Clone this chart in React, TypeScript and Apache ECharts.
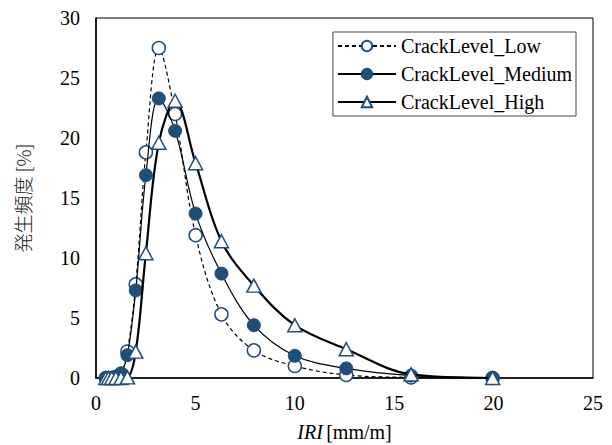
import React, { useEffect, useRef } from "react";
import * as echarts from "echarts";

const iri = [0.5, 0.63, 0.79, 1.0, 1.26, 1.58, 2.0, 2.51, 3.16, 3.98, 5.01, 6.31, 7.94, 10.0, 12.59, 15.85, 19.95];
const lowValues = [0, 0, 0, 0.1, 0.3, 2.2, 7.8, 18.8, 27.5, 22.0, 11.9, 5.3, 2.3, 1.0, 0.25, 0.05, 0];
const mediumValues = [0, 0, 0, 0.05, 0.4, 1.9, 7.3, 16.9, 23.3, 20.6, 13.7, 8.7, 4.4, 1.85, 0.8, 0.2, 0];
const highValues = [0, 0, 0, 0, 0, 0.05, 2.2, 10.4, 19.6, 23.1, 17.9, 11.4, 7.7, 4.4, 2.4, 0.3, 0];
const seriesNames = ["CrackLevel_Low", "CrackLevel_Medium", "CrackLevel_High"];
const xTicks = [0, 5, 10, 15, 20, 25];
const yTicks = [0, 5, 10, 15, 20, 25, 30];

const BLUE = "#1F4E79";
const SERIF = "'Liberation Serif', serif";

export default function App() {
  const ref = useRef<HTMLDivElement>(null);
  useEffect(() => {
    document.body.style.margin = "0";
    if (!ref.current) return;
    const chart = echarts.init(ref.current, undefined, { renderer: "svg" });
    const pair = (vals: number[]) => iri.map((x, i) => [x, vals[i]]);
    chart.setOption({
      animation: false,
      backgroundColor: "#fff",
      grid: {
        left: 96,
        right: 19,
        top: 18,
        bottom: 67,
        show: true,
        borderColor: "#000",
        borderWidth: 1,
        containLabel: false,
        outerBoundsMode: "none",
      },
      legend: {
        right: 36,
        top: 32,
        orient: "vertical",
        itemWidth: 58,
        itemHeight: 13,
        itemGap: 8,
        backgroundColor: "#fff",
        borderColor: "#444",
        borderWidth: 1,
        padding: [4, 4, 4, 4],
        textStyle: { fontFamily: SERIF, fontSize: 20, color: "#000" },
        data: seriesNames,
      },
      xAxis: {
        type: "value",
        min: xTicks[0],
        max: xTicks[xTicks.length - 1],
        interval: 5,
        name: "{i|IRI} {n|[mm/m]}",
        nameLocation: "middle",
        nameGap: 44,
        nameTextStyle: {
          rich: {
            i: { fontFamily: SERIF, fontSize: 20, fontStyle: "italic", color: "#000" },
            n: { fontFamily: SERIF, fontSize: 20, color: "#000" },
          },
        },
        axisLine: { show: true, lineStyle: { color: "#000", width: 1.5 } },
        axisTick: { show: false },
        splitLine: { show: false },
        axisLabel: { fontFamily: SERIF, fontSize: 20, color: "#000", margin: 15 },
      },
      yAxis: {
        type: "value",
        min: yTicks[0],
        max: yTicks[yTicks.length - 1],
        interval: 5,
        name: "発生頻度 [%]",
        nameLocation: "middle",
        nameGap: 64,
        nameRotate: 90,
        nameTextStyle: { fontFamily: "'Noto Sans CJK JP', sans-serif", fontSize: 19, color: "#222", fontWeight: 300 },
        axisLine: { show: true, lineStyle: { color: "#000", width: 1.5 } },
        axisTick: { show: false },
        splitLine: { show: false },
        axisLabel: { fontFamily: SERIF, fontSize: 20, color: "#000", margin: 16 },
      },
      series: [
        {
          name: seriesNames[0],
          type: "line",
          data: pair(lowValues),
          smooth: 0.35,
          symbol: "circle",
          symbolSize: 13,
          z: 3,
          lineStyle: { color: "#000", width: 1.2, type: [4, 3] },
          itemStyle: { color: "#fff", borderColor: BLUE, borderWidth: 1.5 },
        },
        {
          name: seriesNames[1],
          type: "line",
          data: pair(mediumValues),
          smooth: 0.35,
          symbol: "circle",
          symbolSize: 13,
          z: 4,
          lineStyle: { color: "#000", width: 1.2 },
          itemStyle: { color: BLUE, borderColor: BLUE, borderWidth: 1 },
        },
        {
          name: seriesNames[2],
          type: "line",
          data: pair(highValues),
          smooth: 0.35,
          symbol: "triangle",
          symbolSize: [14, 13],
          z: 5,
          lineStyle: { color: "#000", width: 2.2 },
          itemStyle: { color: "#fff", borderColor: BLUE, borderWidth: 1.5 },
        },
      ],
    });
    return () => chart.dispose();
  }, []);
  return <div ref={ref} style={{ width: 612, height: 445 }} />;
}
